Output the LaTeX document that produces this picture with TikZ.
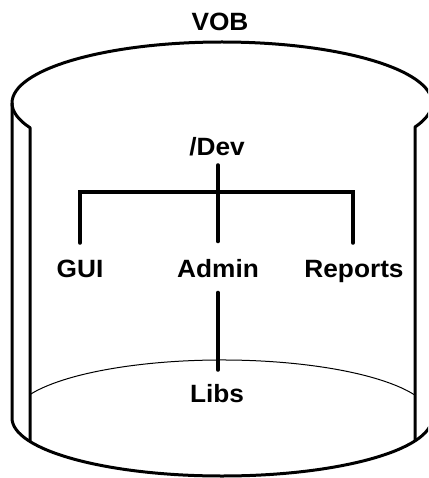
\documentclass[tikz,border=0pt]{standalone}
\usepackage{fontspec}
\setmainfont{Liberation Sans}[FakeStretch=1.05]
\usetikzlibrary{calc}
\begin{document}
\begin{tikzpicture}[x=1pt,y=-1pt,
  lbl/.style={font=\fontsize{25}{29}\selectfont\bfseries, text height=18pt, text depth=0pt, inner sep=0pt},
  outline/.style={line width=3pt, line join=round},
  thinline/.style={line width=1pt},
  tree/.style={line width=4pt, line cap=round, line join=miter}]
\useasboundingbox (0,0) rectangle (428,478);
\clip (0,0) rectangle (428,478);
% cylinder
\draw[outline] (12,103) arc[start angle=180, end angle=360, x radius=210, y radius=61]
  -- (432,418) arc[start angle=0, end angle=180, x radius=210, y radius=58] -- cycle;
\draw[outline] (12,103) arc[start angle=180, end angle=156.1, x radius=210, y radius=61]
  -- (30,441.5);
\draw[outline] (432,103) arc[start angle=0, end angle=23.2, x radius=210, y radius=61]
  -- (415,440.9);
\draw[thinline] (30,394.5) arc[start angle=203.9, end angle=336.8, x radius=210, y radius=58];
% labels
\node[lbl] (vob) at (220,22) {VOB};
\node[lbl] (dev) at (217,147) {/Dev};
\node[lbl] (gui) at (80,268) {GUI};
\node[lbl] (admin) at (218,268) {Admin};
\node[lbl] (rep) at (354,268) {Reports};
\node[lbl] (libs) at (217,393) {Libs};
\coordinate (bar) at (218,192);
% tree
\draw[tree] ($(dev.south)+(1,9)$) -- ($(admin.north)+(0,-17.5)$);
\draw[tree] ($(gui.north)+(0,-16)$) |- (bar) -| ($(rep.north)+(-1,-16)$);
\draw[tree] ($(admin.south)+(0,15.5)$) -- ($(libs.north)+(1,-14)$);
\end{tikzpicture}
\end{document}
